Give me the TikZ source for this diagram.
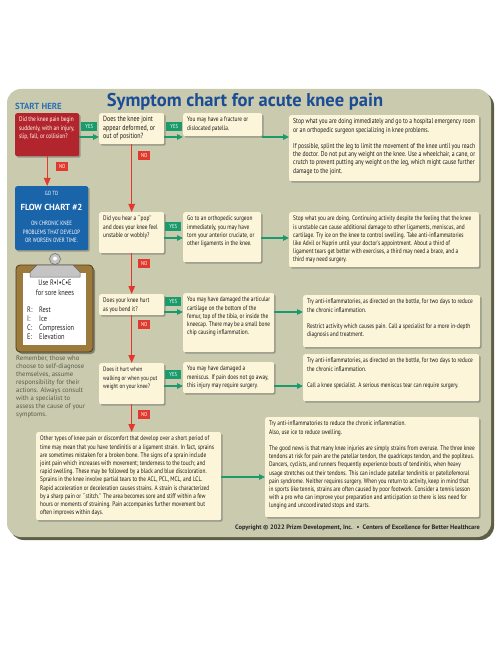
\documentclass[tikz,border=0pt]{standalone}
\usepackage{fontspec}
\setmainfont{PT Sans}
\newfontfamily\condfont{PT Sans}[FakeStretch=0.8]
\usepackage{tikz}
\usetikzlibrary{
  positioning,
  arrows.meta,
  shadows,
  calc
}
\definecolor{panelfill}{HTML}{C9CAAE}
\definecolor{panelshadow}{HTML}{5E5E46}
\definecolor{cream}{HTML}{FCF5DA}
\definecolor{titleblue}{HTML}{1B4C96}
\definecolor{startblue}{HTML}{2C6FB7}
\definecolor{flowblue}{HTML}{1A64AA}
\definecolor{q1red}{HTML}{B3252C}
\definecolor{yesgreen}{HTML}{199B6B}
\definecolor{nored}{HTML}{E2392E}
\definecolor{clipbrown}{HTML}{9C7A3C}
\definecolor{clipdark}{HTML}{4E3A16}
\definecolor{clipgray}{HTML}{C4C4C4}
\definecolor{textgray}{HTML}{5A5A48}

\newcommand{\cardtext}[3]{\parbox[t][#2][t]{#1}{\raggedright\strut#3}}

\begin{document}
\begin{tikzpicture}[x=1pt, y=-1pt, >={Triangle[length=6pt, width=5.5pt]},
    card/.style={fill=cream, rounded corners=2pt, inner xsep=4pt, inner ysep=3pt, anchor=north west,
      font=\condfont\fontsize{6.7}{8.2}\selectfont, text=black!90,
      drop shadow={shadow xshift=1.5pt, shadow yshift=-1.5pt, opacity=0.4, fill=black!70}},
    bigcard/.style={card, font=\condfont\fontsize{7.1}{8.2}\selectfont},
    tag/.style={text=white, anchor=north west, inner sep=0pt, minimum height=9pt,
      font=\condfont\fontsize{5.8}{6}\selectfont},
    yestag/.style={tag, fill=yesgreen, minimum width=16pt},
    notag/.style={tag, fill=nored, minimum width=12pt},
    yesarrow/.style={->, draw=yesgreen, line width=1.3pt},
    noarrow/.style={-{Triangle[length=8pt, width=6.5pt]}, draw=nored, line width=1.2pt},
    flowtext/.style={text=white, inner sep=0pt, align=center},
    cliptext/.style={text=black!85, inner sep=0pt, font=\condfont\fontsize{8}{9}\selectfont}]
    \useasboundingbox (0,0) rectangle (500,652);

    % 背景面板
    \fill[panelshadow, rounded corners=14pt] (10,92) rectangle (494,540);
    \fill[panelfill, rounded corners=14pt] (7,89) rectangle (491,537);

    % 标题
    \node[anchor=base, text=titleblue, font=\bfseries\fontsize{18.5}{20}\selectfont] (title) at (245,107) {Symptom chart for acute knee pain};
    \node[anchor=base west, inner sep=0pt, text=startblue, font=\bfseries\fontsize{8.8}{10}\selectfont] (start) at (15,110) {START HERE};

    % 问题与回答
    \node[card, fill=q1red, text=white] (q1) at (15,113) {\cardtext{56pt}{37pt}{Did the knee pain begin\\suddenly, with an injury,\\slip, fall, or collision?}};
    \node[bigcard, font=\condfont\fontsize{7.5}{8.2}\selectfont] (q2) at (99,113) {\cardtext{57pt}{25pt}{Does the knee joint\\appear deformed, or\\out of position?}};
    \node[card] (a1) at (183,113) {\cardtext{71pt}{17pt}{You may have a fracture or\\dislocated patella.}};
    \node[bigcard] (a1b) at (289,115) {\cardtext{182pt}{60pt}{Stop what you are doing immediately and go to a hospital emergency room\\or an orthopedic surgeon specializing in knee problems.\\[8.2pt]If possible, splint the leg to limit the movement of the knee until you reach\\the doctor. Do not put any weight on the knee. Use a wheelchair, a cane, or\\crutch to prevent putting any weight on the leg, which might cause further\\damage to the joint.}};

    \node[card, fill=flowblue, minimum width=73pt, minimum height=64pt, inner sep=0pt] (flow) at (15,186) {};
    \node[flowtext, font=\condfont\fontsize{6}{7}\selectfont] (goto) at (51.5,193) {GO TO};
    \node[flowtext, font=\bfseries\fontsize{8.8}{10}\selectfont] (fc2) at (51.5,207) {FLOW CHART \#2};
    \node[flowtext, font=\condfont\fontsize{6.2}{8.4}\selectfont] (chronic) at (51.5,232) {ON CHRONIC KNEE\\PROBLEMS THAT DEVELOP\\OR WORSEN OVER TIME.};

    \node[card] (q3) at (99,212) {\cardtext{57pt}{35pt}{Did you hear a ``pop''\\and does your knee feel\\unstable or wobbly?}};
    \node[card] (a3) at (183,212) {\cardtext{70pt}{44pt}{Go to an orthopedic surgeon\\immediately, you may have\\torn your anterior cruciate, or\\other ligaments in the knee.}};
    \node[card] (a3b) at (289,212) {\cardtext{182pt}{49pt}{Stop what you are doing. Continuing activity despite the feeling that the knee\\is unstable can cause additional damage to other ligaments, meniscus, and\\cartilage. Try ice on the knee to control swelling. Take anti-inflammatories\\like Advil or Nuprin until your doctor's appointment. About a third of\\ligament tears get better with exercises, a third may need a brace, and a\\third may need surgery.}};

    \node[card] (q4) at (99,294) {\cardtext{57pt}{15pt}{Does your knee hurt\\as you bend it?}};
    \node[card] (a4) at (183,293) {\cardtext{83pt}{53pt}{You may have damaged the articular\\cartilage on the bottom of the\\femur, top of the tibia, or inside the\\kneecap. There may be a small bone\\chip causing inflammation.}};
    \node[card] (a4b) at (303,295) {\cardtext{169pt}{46pt}{Try anti-inflammatories, as directed on the bottle, for two days to reduce\\the chronic inflammation.\\[8.2pt]Restrict activity which causes pain. Call a specialist for a more in-depth\\diagnosis and treatment.}};

    \node[card, font=\condfont\fontsize{6.4}{8.2}\selectfont] (q5) at (99,363) {\cardtext{57pt}{35pt}{Does it hurt when\\walking or when you put\\weight on your knee?}};
    \node[card] (a5) at (183,362) {\cardtext{83pt}{25pt}{You may have damaged a\\meniscus. If pain does not go away,\\this injury may require surgery.}};
    \node[card] (a5b) at (303,354) {\cardtext{168pt}{41pt}{Try anti-inflammatories, as directed on the bottle, for two days to reduce\\the chronic inflammation.\\[8.2pt]Call a knee specialist. A serious meniscus tear can require surgery.}};

    \node[card] (b6) at (36,432) {\cardtext{177pt}{82pt}{Other types of knee pain or discomfort that develop over a short period of\\time may mean that you have tendinitis or a ligament strain. In fact, sprains\\are sometimes mistaken for a broken bone.  The signs of a sprain include\\joint pain which increases with movement; tenderness to the touch; and\\rapid swelling. These may be followed by a black and blue discoloration.\\Sprains in the knee involve partial tears to the ACL, PCL, MCL, and LCL.\\Rapid acceleration or deceleration causes strains. A strain is characterized\\by a sharp pain or ``stitch.'' The area becomes sore and stiff within a few\\hours or moments of straining. Pain accompanies further movement but\\often improves within days.}};
    \node[card] (b6b) at (265,417) {\cardtext{206pt}{94pt}{Try anti-inflammatories to reduce the chronic inflammation.\\Also, use ice to reduce swelling.\\[8.2pt]The good news is that many knee injuries are simply strains from overuse. The three knee\\tendons at risk for pain are the patellar tendon, the quadriceps tendon, and the popliteus.\\Dancers, cyclists, and runners frequently experience bouts of tendinitis, when heavy\\usage stretches out their tendons. This can include patellar tendinitis or patellofemoral\\pain syndrome. Neither requires surgery. When you return to activity, keep in mind that\\in sports like tennis, strains are often caused by poor footwork. Consider a tennis lesson\\with a pro who can improve your preparation and anticipation so there is less need for\\lunging and uncoordinated stops and starts.}};

    % 剪贴板
    \fill[black, opacity=0.35, rounded corners=4pt] (18,267) rectangle (95,354);
    \draw[clipdark, fill=clipbrown, line width=0.8pt, rounded corners=4pt] (16,265) rectangle (93,352);
    \fill[white] (23,273) rectangle (86,345);
    \draw[clipgray!50!black, fill=clipgray, line width=0.5pt] (55,259) circle (5.5pt);
    \fill[white] (55,258.5) circle (2pt);
    \draw[clipgray!50!black, fill=clipgray, line width=0.5pt] (30,277) -- (80,277) -- (80,272) -- (73,265) -- (37,265) -- (30,272) -- cycle;
    \node[cliptext] (rice) at (55,283) {Use R•I•C•E};
    \node[cliptext] (sore) at (55,293) {for sore knees};
    \foreach \k/\w [count=\i] in {R/Rest, I/Ice, C/Compression, E/Elevation} {
        \node[cliptext, anchor=base west] at (27,{303+9*\i}) {\k:};
        \node[cliptext, anchor=base west] at (39,{303+9*\i}) {\w};
    }
    \node[anchor=north west, inner sep=0pt, align=left, text=textgray, font=\fontsize{6.7}{8}\selectfont] (remind) at (16,356) {Remember, those who\\choose to self-diagnose\\themselves, assume\\responsibility for their\\actions. Always consult\\with a specialist to\\assess the cause of your\\symptoms.};

    % 是：横向箭头
    \coordinate (row1) at (0,137);
    \coordinate (row3) at (0,238);
    \coordinate (row4) at (0,312);
    \coordinate (row5) at (0,386);
    \coordinate (row6) at (0,477);
    \draw[yesarrow] (q1.east |- row1) -- (q2.west |- row1);
    \draw[yesarrow] (q2.east |- row1) -- (a1.west |- row1);
    \draw[yesarrow] (a1.east |- row1) -- (a1b.west |- row1);
    \draw[yesarrow] (q3.east |- row3) -- (a3.west |- row3);
    \draw[yesarrow] (a3.east |- row3) -- (a3b.west |- row3);
    \draw[yesarrow] (q4.east |- row4) -- (a4.west |- row4);
    \draw[yesarrow] (a4.east |- row4) -- (a4b.west |- row4);
    \draw[yesarrow] (q5.east |- row5) -- (a5.west |- row5);
    \draw[yesarrow] (a5.east |- row5) -- (a5b.west |- row5);
    \draw[yesarrow] (b6.east |- row6) -- (b6b.west |- row6);
    \node[yestag] (yes1) at (81,122) {YES};
    \node[yestag] (yes2) at (166,122) {YES};
    \node[yestag] (yes3) at (165,222) {YES};
    \node[yestag] (yes4) at (165,297) {YES};
    \node[yestag] (yes5) at (165,370) {YES};

    % 否：向下箭头
    \draw[noarrow] (q1.south) -- (q1.south |- flow.north);
    \draw[noarrow] (q2.south) -- (q2.south |- q3.north);
    \draw[noarrow] (q3.south) -- (q3.south |- q4.north);
    \draw[noarrow] (q4.south) -- (q4.south |- q5.north);
    \draw[noarrow] (q5.south) -- (q5.south |- b6.north);
    \node[notag] (no1) at (56,162) {NO};
    \node[notag] (no2) at (138,151) {NO};
    \node[notag] (no3) at (138,259) {NO};
    \node[notag] (no4) at (138,320) {NO};
    \node[notag] (no5) at (138,410) {NO};

    % 版权
    \node[anchor=base east, inner sep=0pt, text=black!85, font=\bfseries\fontsize{6.4}{7}\selectfont] (copy) at (480,529) {Copyright © 2022 Prizm Development, Inc. \ \textbullet\ \ Centers of Excellence for Better Healthcare};
\end{tikzpicture}
\end{document}
